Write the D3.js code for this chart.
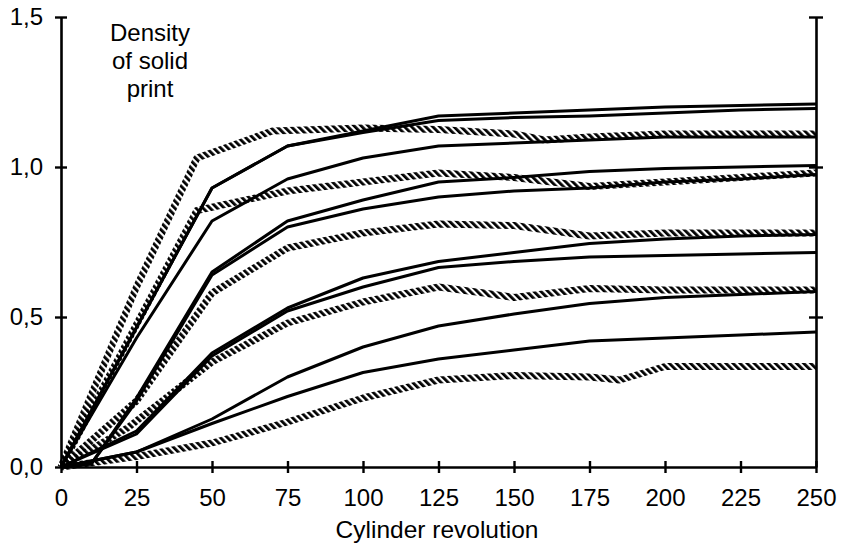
<!DOCTYPE html>
<html>
<head>
<meta charset="utf-8">
<style>
  body { margin: 0; background: #fff; }
  text { font-family: "Liberation Sans", Arial, Helvetica, sans-serif; fill: #000; }
</style>
<title>Density of solid print vs cylinder revolution</title>
</head>
<body>
<script src="https://cdn.jsdelivr.net/npm/d3@7/dist/d3.min.js"></script>
<script>
// x ticks and y ticks
const xTicks = [0, 25, 50, 75, 100, 125, 150, 175, 200, 225, 250];
const yTicks = [0, 0.5, 1.0, 1.5];

// solid curves: [cylinder revolution, density]
const solid1 = [[0,0],[50,0.93],[75,1.07],[100,1.12],[125,1.17],[150,1.18],[175,1.19],[200,1.20],[225,1.205],[250,1.21]];
const solid2 = [[0,0],[50,0.93],[75,1.07],[100,1.115],[125,1.155],[150,1.165],[175,1.17],[200,1.18],[225,1.19],[250,1.195]];
const solid3 = [[0,0],[25,0.43],[50,0.82],[75,0.96],[100,1.03],[125,1.07],[150,1.08],[175,1.09],[200,1.10],[225,1.10],[250,1.10]];
const solid4 = [[0,0],[10,0.01],[25,0.23],[50,0.65],[75,0.82],[100,0.89],[125,0.95],[150,0.965],[175,0.985],[200,0.995],[225,1.0],[250,1.005]];
const solid5 = [[0,0],[10,0.01],[25,0.22],[50,0.64],[75,0.80],[100,0.86],[125,0.90],[150,0.92],[175,0.93],[200,0.95],[225,0.96],[250,0.975]];
const solid6 = [[0,0],[25,0.12],[50,0.38],[75,0.53],[100,0.63],[125,0.685],[150,0.715],[175,0.745],[200,0.76],[225,0.77],[250,0.775]];
const solid7 = [[0,0],[25,0.11],[50,0.37],[75,0.52],[100,0.60],[125,0.665],[150,0.685],[175,0.70],[200,0.705],[225,0.71],[250,0.715]];
const solid8 = [[0,0],[25,0.05],[50,0.16],[75,0.30],[100,0.40],[125,0.47],[150,0.51],[175,0.545],[200,0.565],[225,0.575],[250,0.585]];
const solid9 = [[0,0],[25,0.05],[50,0.145],[75,0.235],[100,0.315],[125,0.36],[150,0.39],[175,0.42],[200,0.43],[225,0.44],[250,0.45]];

// hatched curves
const hatch1 = [[0,0],[25,0.6],[45,1.03],[70,1.12],[100,1.13],[125,1.125],[150,1.11],[160,1.09],[175,1.10],[200,1.11],[225,1.11],[250,1.11]];
const hatch2 = [[0,0],[45,0.855],[75,0.92],[100,0.95],[125,0.98],[150,0.965],[175,0.935],[200,0.95],[225,0.965],[250,0.98]];
const hatch3 = [[0,0],[25,0.22],[50,0.58],[75,0.73],[100,0.78],[125,0.81],[150,0.805],[175,0.77],[200,0.78],[225,0.78],[250,0.78]];
const hatch4 = [[0,0],[22,0.13],[50,0.35],[75,0.48],[100,0.55],[125,0.60],[140,0.58],[150,0.565],[175,0.595],[200,0.59],[225,0.59],[250,0.59]];
const hatch5 = [[0,0],[25,0.035],[50,0.08],[75,0.15],[100,0.23],[125,0.29],[150,0.305],[175,0.30],[185,0.29],[200,0.335],[225,0.335],[250,0.335]];

const solidSeries = [solid1, solid2, solid3, solid4, solid5, solid6, solid7, solid8, solid9];
const hatchSeries = [hatch1, hatch2, hatch3, hatch4, hatch5];

const W = 852, H = 548;
const x = d3.scaleLinear().domain([0, 250]).range([61, 816]);
const y = d3.scaleLinear().domain([0, 1.5]).range([467, 17]);
const comma = d => d3.format(".1f")(d).replace(".", ",");

const svg = d3.select("body").append("svg")
  .attr("width", W)
  .attr("height", H);

// diagonal stripes for the hatched curves
svg.append("defs").append("pattern")
  .attr("id", "hatch")
  .attr("patternUnits", "userSpaceOnUse")
  .attr("width", 5)
  .attr("height", 5)
  .attr("patternTransform", "rotate(-45)")
  .append("rect")
  .attr("width", 2.8)
  .attr("height", 5)
  .attr("fill", "#000");

const line = d3.line().x(d => x(d[0])).y(d => y(d[1]));

// hatched curves below
svg.append("g").selectAll("path")
  .data(hatchSeries)
  .enter().append("path")
  .attr("d", line)
  .attr("fill", "none")
  .attr("stroke", "url(#hatch)")
  .attr("stroke-width", 7)
  .attr("stroke-linejoin", "round");

// solid curves
svg.append("g").selectAll("path")
  .data(solidSeries)
  .enter().append("path")
  .attr("d", line)
  .attr("fill", "none")
  .attr("stroke", "#000")
  .attr("stroke-width", 3)
  .attr("stroke-linejoin", "round");

// left axis
const yAxis = svg.append("g")
  .attr("transform", `translate(${x(0)},0)`)
  .call(d3.axisLeft(y).tickValues(yTicks).tickFormat(comma).tickSizeOuter(0).tickSizeInner(6).tickPadding(12));
yAxis.selectAll(".tick line").attr("x1", -6).attr("x2", 6);

// right axis, ticks only
const yAxisR = svg.append("g")
  .attr("transform", `translate(${x(250)},0)`)
  .call(d3.axisRight(y).tickValues([0.5, 1.0, 1.5]).tickFormat("").tickSizeOuter(0));
yAxisR.selectAll(".tick line").attr("x1", -7).attr("x2", 7);

// bottom axis
const xAxis = svg.append("g")
  .attr("transform", `translate(0,${y(0)})`)
  .call(d3.axisBottom(x).tickValues(xTicks).tickSizeOuter(0).tickSizeInner(6).tickPadding(16));
xAxis.selectAll(".tick line").attr("y1", -6).attr("y2", 6);

svg.selectAll(".domain").attr("stroke", "#000").attr("stroke-width", 2.6);
svg.selectAll(".tick line").attr("stroke", "#000").attr("stroke-width", 2.4);
svg.selectAll(".tick text")
  .style("font-family", "'Liberation Sans', Arial, sans-serif")
  .style("font-size", "24px")
  .attr("fill", "#000");

// axis titles
svg.append("text")
  .attr("x", 437)
  .attr("y", 538)
  .attr("text-anchor", "middle")
  .style("font-size", "24.5px")
  .text("Cylinder revolution");

const yTitle = ["Density", "of solid", "print"];
svg.append("g").selectAll("text")
  .data(yTitle)
  .enter().append("text")
  .attr("x", 150)
  .attr("y", (d, i) => 41 + i * 28)
  .attr("text-anchor", "middle")
  .style("font-size", "24px")
  .text(d => d);
</script>
</body>
</html>
